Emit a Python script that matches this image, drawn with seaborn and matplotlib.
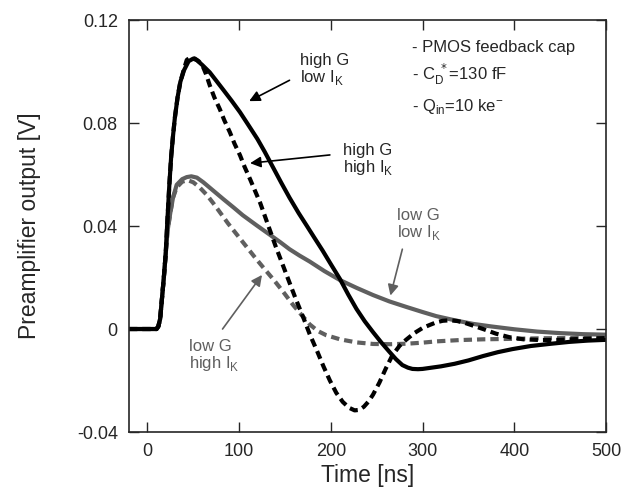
import numpy as np
import pandas as pd
import seaborn as sns
from matplotlib import pyplot as plt

# --- curve samples (time in ns, output in V)
# high G, low I_K (solid black)
t_hg_lk = [-20, 0, 10, 12, 14, 16, 18, 20, 22, 24, 26, 28, 30, 33, 36, 40, 45, 50, 54, 60, 68, 75, 83,
           92, 101, 110, 120, 128, 137, 146, 155, 165, 174, 182, 191, 200, 210, 219, 228, 237, 246, 255,
           264, 271, 278, 284, 289, 295, 300, 308, 320, 335, 350, 366, 382, 398, 418, 438, 460, 480, 500]
v_hg_lk = [0, 0, 0, 0.001, 0.004, 0.012, 0.020, 0.029, 0.043, 0.056, 0.067, 0.075, 0.082, 0.090, 0.096,
           0.1005, 0.104, 0.105, 0.1044, 0.1025, 0.0997, 0.0965, 0.0928, 0.0886, 0.0842, 0.0793, 0.0738,
           0.0688, 0.0628, 0.0568, 0.0510, 0.0450, 0.0400, 0.0355, 0.0305, 0.0252, 0.0194, 0.0134,
           0.0078, 0.0030, -0.0012, -0.0052, -0.0089, -0.0117, -0.0140, -0.0150, -0.0155, -0.0156,
           -0.0155, -0.0151, -0.0145, -0.0135, -0.0122, -0.0105, -0.0090, -0.0078, -0.0066, -0.0058,
           -0.0050, -0.0045, -0.0042]

# high G, high I_K (dashed black)
t_hg_hk = [-20, 0, 10, 12, 14, 16, 18, 20, 22, 24, 26, 28, 30, 33, 36, 40, 43, 47, 52, 56, 60, 64, 68,
           73, 79, 84, 90, 95, 101, 106, 112, 117, 123, 128, 134, 140, 147, 155, 162, 170, 177, 185, 192,
           199, 206, 213, 220, 226, 231, 236, 241, 246, 253, 260, 267, 275, 282, 291, 300, 308, 315, 322,
           330, 338, 346, 356, 366, 380, 395, 410, 430, 450, 475, 500]
v_hg_hk = [0, 0, 0, 0.001, 0.004, 0.012, 0.020, 0.029, 0.043, 0.056, 0.067, 0.075, 0.082, 0.090, 0.096,
           0.101, 0.1045, 0.1055, 0.105, 0.104, 0.1024, 0.099, 0.0947, 0.0900, 0.0854, 0.0810, 0.0764,
           0.0720, 0.0675, 0.0630, 0.0582, 0.0540, 0.0490, 0.0440, 0.0380, 0.0320, 0.0255, 0.0180,
           0.0115, 0.0045, -0.0020, -0.0085, -0.0145, -0.0200, -0.0248, -0.0283, -0.0306, -0.0316,
           -0.0314, -0.0302, -0.0282, -0.0255, -0.0208, -0.0153, -0.0103, -0.0065, -0.0042, -0.0016,
           0.0004, 0.0016, 0.0026, 0.0032, 0.0034, 0.0031, 0.0024, 0.0012, 0.0, -0.0018, -0.0032,
           -0.0040, -0.0043, -0.0042, -0.0038, -0.0035]

# low G, low I_K (solid gray)
t_lg_lk = [-20, 0, 10, 12, 14, 16, 18, 20, 22, 25, 28, 32, 38, 43, 48, 54, 61, 72, 83, 94, 104, 119, 134,
           145, 155, 166, 177, 193, 210, 228, 246, 264, 283, 300, 315, 335, 355, 375, 400, 425, 450, 475,
           500]
v_lg_lk = [0, 0, 0, 0.001, 0.004, 0.012, 0.020, 0.029, 0.038, 0.045, 0.051, 0.056, 0.0582, 0.0590,
           0.0593, 0.0588, 0.0570, 0.0537, 0.0504, 0.0472, 0.0442, 0.0403, 0.0365, 0.0337, 0.0310,
           0.0285, 0.0262, 0.0225, 0.0190, 0.0160, 0.0132, 0.0107, 0.0085, 0.0066, 0.0050, 0.0034,
           0.0020, 0.0010, -0.0001, -0.0010, -0.0016, -0.0020, -0.0022]

# low G, high I_K (dashed gray)
t_lg_hk = [-20, 0, 10, 12, 14, 16, 18, 20, 22, 25, 28, 32, 38, 44, 50, 57, 65, 72, 79, 88, 98, 108, 118,
           128, 138, 148, 159, 168, 177, 186, 195, 210, 228, 246, 265, 283, 300, 315, 340, 366, 400, 430,
           460, 500]
v_lg_hk = [0, 0, 0, 0.001, 0.004, 0.012, 0.020, 0.029, 0.038, 0.045, 0.051, 0.055, 0.0572, 0.0578,
           0.0570, 0.0550, 0.0520, 0.0488, 0.0454, 0.0410, 0.0365, 0.0320, 0.0275, 0.0232, 0.0190,
           0.0145, 0.0093, 0.0055, 0.0018, -0.0008, -0.0024, -0.0040, -0.0052, -0.0058, -0.0059,
           -0.0057, -0.0053, -0.0048, -0.0043, -0.0040, -0.0038, -0.0036, -0.0035, -0.0033]

xticks = [0, 100, 200, 300, 400, 500]
yticks = [-0.04, 0, 0.04, 0.08, 0.12]
ytick_labels = ["-0.04", "0", "0.04", "0.08", "0.12"]

sns.set_style("ticks")
plt.rcParams['font.family'] = ['Liberation Sans', 'DejaVu Sans']

fig = plt.figure(figsize=(6.31, 4.93), dpi=100)
ax = fig.add_axes([0.2044, 0.1237, 0.7560, 0.8357])

gray = "#5f5f5f"
lw = 3.0
dash = (2.0, 1.2)

sns.lineplot(x=t_lg_lk, y=v_lg_lk, ax=ax, color=gray, lw=lw)
sns.lineplot(x=t_lg_hk, y=v_lg_hk, ax=ax, color=gray, lw=lw, linestyle=(0, dash))
sns.lineplot(x=t_hg_lk, y=v_hg_lk, ax=ax, color="black", lw=lw)
sns.lineplot(x=t_hg_hk, y=v_hg_hk, ax=ax, color="black", lw=lw, linestyle=(0, dash))

ax.set_xlim(-20, 500)
ax.set_ylim(-0.04, 0.12)
ax.set_xticks(xticks)
ax.set_yticks(yticks)
ax.set_yticklabels(ytick_labels)
ax.tick_params(direction="in", length=7, width=1, top=True, right=True, labelsize=13, pad=8)
for s in ax.spines.values():
    s.set_linewidth(1.2)
ax.set_xlabel("Time [ns]", fontsize=16.5, labelpad=3)
ax.set_ylabel("Preamplifier output [V]", fontsize=16.5, labelpad=26)

# annotations
fs = 12
arr = dict(arrowstyle="-|>", lw=1.2, mutation_scale=16, shrinkA=0, shrinkB=0)
ax.annotate("", xy=(111, 0.0885), xytext=(155, 0.0966),
            arrowprops=dict(arr, color="black"))
ax.text(166, 0.1005, "high G\nlow I$_\\mathregular{K}$", fontsize=fs, va="center", linespacing=1.0)

ax.annotate("", xy=(112, 0.0644), xytext=(199, 0.0676),
            arrowprops=dict(arr, color="black"))
ax.text(213, 0.0655, "high G\nhigh I$_\\mathregular{K}$", fontsize=fs, va="center", linespacing=1.0)

ax.annotate("", xy=(265, 0.013), xytext=(278, 0.031),
            arrowprops=dict(arr, color=gray))
ax.text(272, 0.0405, "low G\nlow I$_\\mathregular{K}$", fontsize=fs, va="center", color=gray, linespacing=1.0)

ax.annotate("", xy=(125, 0.021), xytext=(82, 0.0),
            arrowprops=dict(arr, color=gray))
ax.text(45, -0.0105, "low G\nhigh I$_\\mathregular{K}$", fontsize=fs, va="center", color=gray, linespacing=1.0)

ax.text(288, 0.1095, "- PMOS feedback cap", fontsize=12, va="center")
ax.text(288, 0.0990, "- C$_\\mathregular{D}^{\\ *}$=130 fF", fontsize=12, va="center")
ax.text(288, 0.0863, "- Q$_\\mathregular{in}$=10 ke$^\\mathregular{-}$", fontsize=12, va="center")

fig.savefig("out.png", dpi=100)
